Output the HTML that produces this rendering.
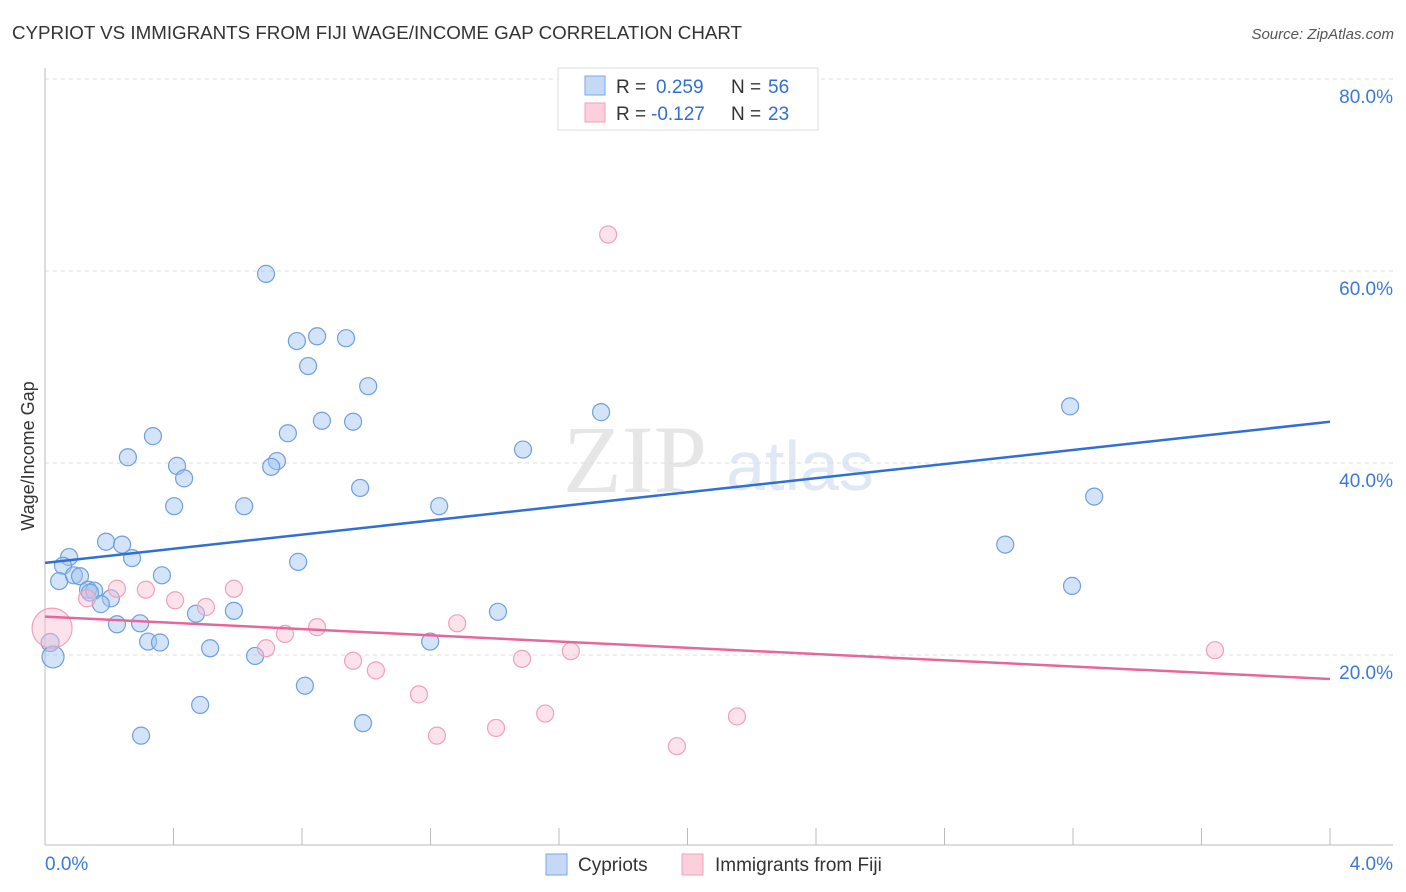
<!DOCTYPE html>
<html><head><meta charset="utf-8"><style>
body{margin:0;background:#fff;font-family:"Liberation Sans",sans-serif;}
svg{display:block}
</style></head><body>
<svg id="c" width="1406" height="892">
<text x="12" y="39" font-size="18" fill="#333" textLength="730" lengthAdjust="spacingAndGlyphs">CYPRIOT VS IMMIGRANTS FROM FIJI WAGE/INCOME GAP CORRELATION CHART</text>
<text x="1394" y="39" font-size="15" fill="#555" font-style="italic" text-anchor="end">Source: ZipAtlas.com</text>
<text x="635" y="492" font-size="96" fill="#e6e6e6" font-family="Liberation Serif,serif" text-anchor="middle">ZIP</text>
<text x="800" y="490" font-size="70" fill="#dfe8f4" text-anchor="middle">atlas</text>
<text transform="translate(34,456) rotate(-90)" font-size="18" fill="#333" text-anchor="middle">Wage/Income Gap</text>
<g id="grid"></g><g id="pts"></g><g id="lines"></g>
<g>
<rect x="558" y="68" width="260" height="62" fill="#fff" stroke="#ddd"/>
<rect x="585" y="76" width="20" height="19" fill="#c5d9f5" stroke="#7aa6e6"/>
<rect x="585" y="103" width="20" height="19" fill="#fbd0dc" stroke="#f0a0b8"/>
<text y="93" font-size="19" fill="#333"><tspan x="616">R =</tspan><tspan x="656" fill="#2f6fd6">0.259</tspan><tspan x="731">N =</tspan><tspan x="768" fill="#2f6fd6">56</tspan></text>
<text y="120" font-size="19" fill="#333"><tspan x="616">R =</tspan><tspan x="651" fill="#2f6fd6">-0.127</tspan><tspan x="731">N =</tspan><tspan x="768" fill="#2f6fd6">23</tspan></text>
</g>
<g>
<rect x="546" y="854" width="21" height="21" fill="#c5d9f5" stroke="#7aa6e6"/>
<text x="578" y="871" font-size="19" fill="#333">Cypriots</text>
<rect x="682" y="854" width="21" height="21" fill="#fbd0dc" stroke="#f0a0b8"/>
<text x="715" y="871" font-size="19" fill="#333">Immigrants from Fiji</text>
</g>
</svg>
<script>
const blueX=[0.688,0.784,0.847,0.937,0.819,1.006,0.862,0.959,0.756,0.336,0.258,0.411,0.722,0.704,0.433,0.981,0.402,0.620,1.227,1.488,1.731,3.191,3.266,2.989,3.197,0.190,0.240,0.075,0.271,0.056,0.044,0.090,0.109,0.364,0.788,0.134,0.153,0.205,0.174,0.588,0.470,1.410,0.224,0.296,0.321,0.358,0.514,1.199,0.654,0.016,0.025,0.809,0.483,0.990,0.299,0.140];
const blueY=[59.7,52.7,53.2,53.0,50.1,48.0,44.4,44.3,43.1,42.8,40.6,39.7,40.2,39.6,38.4,37.4,35.5,35.5,35.5,41.4,45.3,45.9,36.5,31.5,27.2,31.8,31.5,30.2,30.1,29.3,27.7,28.3,28.2,28.3,29.7,26.8,26.7,25.9,25.3,24.6,24.3,24.5,23.2,23.3,21.4,21.3,20.7,21.4,19.9,21.3,19.8,16.8,14.8,12.9,11.6,26.5];
const pinkX=[1.753,0.022,0.224,0.314,0.131,0.405,0.588,0.501,0.688,0.747,0.847,1.283,0.959,1.030,1.485,1.637,1.164,1.557,1.404,1.220,1.967,2.154,3.642];
const pinkY=[63.8,22.8,26.9,26.8,25.9,25.7,26.9,25.0,20.7,22.2,22.9,23.3,19.4,18.4,19.6,20.4,15.9,13.9,12.4,11.6,10.5,13.6,20.5];
const blueTrend=[29.6,44.3];
const pinkTrend=[24.0,17.5];
const yTicks=[20,40,60,80];
const xTickLabels=["0.0%","4.0%"];
const NS="http://www.w3.org/2000/svg";
const X=v=>45+v/4*1285, Y=v=>847-v*9.6;
function mk(tag,attrs,parent){const e=document.createElementNS(NS,tag);for(const k in attrs)e.setAttribute(k,attrs[k]);parent.appendChild(e);return e;}
const g=document.getElementById('grid'),p=document.getElementById('pts'),l=document.getElementById('lines');
yTicks.forEach(t=>{
 const ln=mk('line',{x1:45,x2:1393,y1:Y(t),y2:Y(t),stroke:'#ddd','stroke-dasharray':'4,4'},g);
 
 
 const tx=mk('text',{x:1393,y:Y(t)+24,'font-size':19,fill:'#3b78d8','text-anchor':'end'},g);
 tx.textContent=t.toFixed(1)+'%';
 
 
});
const ax=mk('line',{x1:45,x2:45,y1:68,y2:845,stroke:'#bbb'},g);


const bx=mk('line',{x1:45,x2:1393,y1:845,y2:845,stroke:'#bbb'},g);


for(let i=0;i<=10;i++){
 const tk=mk('line',{x1:X(i*0.4),x2:X(i*0.4),y1:828,y2:845,stroke:'#bbb'},g);
 
 
}
const xl0=mk('text',{x:45,y:870,'font-size':19,fill:'#3b78d8'},g);xl0.textContent=xTickLabels[0];


const xl1=mk('text',{x:1393,y:870,'font-size':19,fill:'#3b78d8','text-anchor':'end'},g);xl1.textContent=xTickLabels[1];


blueX.forEach((v,i)=>{
 const r=(i===50)?11:(i===49?9:8.5);
 const c=mk('circle',{cx:X(v),cy:Y(blueY[i]),r:r,fill:'rgba(160,195,240,0.45)',stroke:'#6e9fe0','stroke-width':1.2},p);
 
 
});
pinkX.forEach((v,i)=>{
 const r=(i===1)?20:8.5;
 const c=mk('circle',{cx:X(v),cy:Y(pinkY[i]),r:r,fill:'rgba(248,190,208,0.45)',stroke:'#f0a0b8','stroke-width':1.2},p);
 
 
});
const bl=mk('line',{x1:X(0),x2:X(4),y1:Y(blueTrend[0]),y2:Y(blueTrend[1]),stroke:'#2f6fd6','stroke-width':2.5},l);


const pl=mk('line',{x1:X(0),x2:X(4),y1:Y(pinkTrend[0]),y2:Y(pinkTrend[1]),stroke:'#e8679a','stroke-width':2.5},l);


</script>
</body></html>
